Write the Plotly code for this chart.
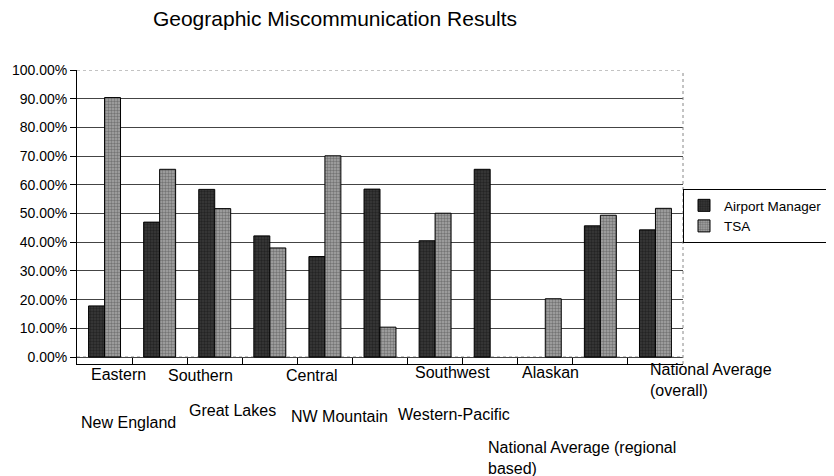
import plotly.graph_objects as go

# data
regions = ["Eastern", "New England", "Southern", "Great Lakes", "Central",
           "NW Mountain", "Southwest", "Western-Pacific", "Alaskan",
           "National Average (regional based)", "National Average (overall)"]
airport_manager = [0.178, 0.470, 0.584, 0.422, 0.350, 0.585, 0.405, 0.654, None, 0.457, 0.443]
tsa = [0.904, 0.654, 0.517, 0.380, 0.701, 0.104, 0.501, None, 0.203, 0.494, 0.518]
y_ticks = [0.0, 0.1, 0.2, 0.3, 0.4, 0.5, 0.6, 0.7, 0.8, 0.9, 1.0]
label_text = ["Eastern", "New England", "Southern", "Great Lakes", "Central",
              "NW Mountain", "Southwest", "Western-Pacific", "Alaskan",
              "National Average (regional<br>based)", "National Average<br>(overall)"]

# staggered label placement (category position, pixel row, anchor) like the Excel original
label_pos = [(0.257, 374, "center"), (0.426, 422, "center"), (1.75, 375, "center"),
             (2.33, 410, "center"), (3.76, 375, "center"), (4.27, 416, "center"),
             (6.31, 372, "center"), (6.34, 414, "center"), (8.09, 372, "center"),
             (6.92, 458, "left"), (9.87, 380, "left")]

FONT = "Liberation Sans, Arial, sans-serif"
OFF = 8  # page body margin of the html page
W, H = 834 - OFF, 476 - OFF
L, R, T, B = 77 - OFF, 151, 70 - OFF, 112
plot_h = H - T - B

fig = go.Figure()
fig.add_trace(go.Bar(
    x=regions, y=airport_manager, name="Airport Manager",
    marker=dict(color="#333333", line=dict(color="black", width=1),
                pattern=dict(shape=".", fgcolor="#0d0d0d", bgcolor="#3a3a3a", size=3, solidity=0.5)),
))
fig.add_trace(go.Bar(
    x=regions, y=tsa, name="TSA",
    marker=dict(color="#888888", line=dict(color="black", width=1),
                pattern=dict(shape=".", fgcolor="#404040", bgcolor="#a8a8a8", size=3, solidity=0.5)),
))

for text, (xi, py, anchor) in zip(label_text, label_pos):
    fig.add_annotation(x=xi, y=(H - B - (py - OFF)) / plot_h, xref="x", yref="paper",
                       text=text, showarrow=False, xanchor=anchor, yanchor="middle",
                       align="left", font=dict(size=16, color="black", family=FONT))

# dotted plot-area border (top, right, bottom) as in the original
border = dict(color="#888888", width=1, dash="dot")
fig.add_shape(type="line", xref="paper", yref="y", x0=0, x1=1, y0=1, y1=1,
              line=dict(color="white", width=2), layer="between")
fig.add_shape(type="line", xref="paper", yref="y", x0=0, x1=1, y0=0, y1=0,
              line=dict(color="white", width=2), layer="between")
fig.add_shape(type="line", xref="paper", yref="y", x0=0, x1=1, y0=1, y1=1, line=border, layer="between")
fig.add_shape(type="line", xref="paper", yref="y", x0=0, x1=1, y0=0, y1=0, line=border, layer="between")
fig.add_shape(type="line", xref="paper", yref="paper", x0=1, x1=1, y0=0, y1=1, line=border)

fig.update_layout(
    width=W, height=H,
    margin=dict(l=L, r=R, t=T, b=B, autoexpand=False),
    paper_bgcolor="white", plot_bgcolor="white",
    font=dict(family=FONT, color="black"),
    title=dict(text="Geographic Miscommunication Results", x=(335 - OFF) / W, xanchor="center",
               y=1 - (19 - OFF) / H, yanchor="middle", font=dict(size=21, color="black", family=FONT)),
    barmode="group", bargap=0.42, bargroupgap=0,
    showlegend=True,
    legend=dict(x=1.0, y=0.595, xanchor="left", yanchor="top",
                bordercolor="black", borderwidth=1, bgcolor="white",
                font=dict(size=13.5, color="black", family=FONT),
                tracegroupgap=0, itemwidth=30),
)
fig.update_xaxes(type="category", range=[-0.5, len(regions) - 0.5], showticklabels=False,
                 showline=True, linecolor="black", linewidth=1, ticks="inside",
                 tickson="boundaries", ticklen=6, tickcolor="black", showgrid=False)
fig.update_yaxes(range=[-0.0244, 1.0], tickvals=y_ticks, tickformat=".2%",
                 showline=True, linecolor="black", linewidth=1, ticks="outside",
                 ticklen=6, tickcolor="black", showgrid=True, gridcolor="#444444",
                 gridwidth=1, zeroline=False, tickfont=dict(size=14, color="black"))

fig.write_html("out.html")
